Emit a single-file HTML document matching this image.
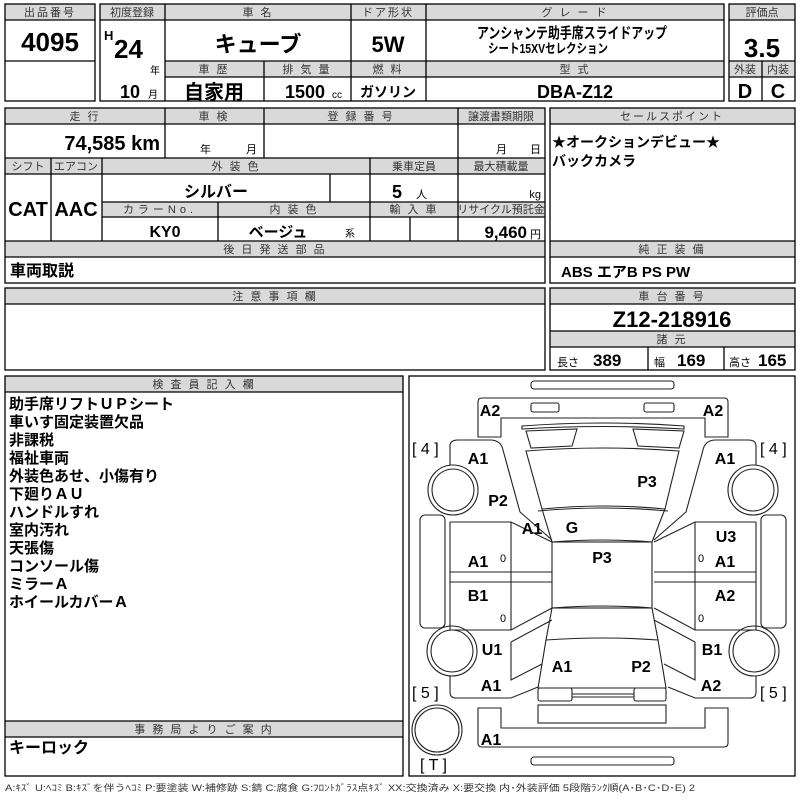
<!DOCTYPE html>
<html><head><meta charset="utf-8"><style>
html,body{margin:0;padding:0;background:#fff;width:800px;height:800px;overflow:hidden}
svg{display:block}
text{font-family:"Liberation Sans","Noto Sans CJK JP",sans-serif}
.h{font-size:11px;fill:#333;text-anchor:middle;letter-spacing:2px}
.b{font-weight:bold;fill:#000}
.c{text-anchor:middle}
.l{font-size:16px;font-weight:bold;text-anchor:middle}
</style></head><body>
<svg width="800" height="800" viewBox="0 0 800 800" xmlns="http://www.w3.org/2000/svg">
<g fill="#d9d9d9" stroke="none">
<rect x="5" y="4" width="90" height="16"/>
<rect x="100" y="4" width="624" height="16"/>
<rect x="165" y="61" width="559" height="16"/>
<rect x="729" y="4" width="66" height="16"/>
<rect x="729" y="61" width="66" height="16"/>
<rect x="5" y="108" width="540" height="16"/>
<rect x="5" y="158" width="540" height="16"/>
<rect x="102" y="202" width="443" height="15"/>
<rect x="5" y="241" width="540" height="16"/>
<rect x="550" y="108" width="245" height="16"/>
<rect x="550" y="241" width="245" height="16"/>
<rect x="5" y="288" width="540" height="16"/>
<rect x="550" y="288" width="245" height="16"/>
<rect x="550" y="331" width="245" height="16"/>
<rect x="5" y="376" width="398" height="16"/>
<rect x="5" y="721" width="398" height="16"/>
</g>
<g fill="none" stroke="#000" stroke-width="1.3">
<rect x="5" y="4" width="90" height="97"/>
<line x1="5" y1="20" x2="95" y2="20"/><line x1="5" y1="61" x2="95" y2="61"/>
<rect x="100" y="4" width="624" height="97"/>
<line x1="100" y1="20" x2="724" y2="20"/>
<line x1="165" y1="61" x2="724" y2="61"/><line x1="165" y1="77" x2="724" y2="77"/>
<line x1="165" y1="4" x2="165" y2="101"/><line x1="351" y1="4" x2="351" y2="101"/>
<line x1="426" y1="4" x2="426" y2="101"/><line x1="264" y1="61" x2="264" y2="101"/>
<rect x="729" y="4" width="66" height="97"/>
<line x1="729" y1="20" x2="795" y2="20"/><line x1="729" y1="61" x2="795" y2="61"/><line x1="729" y1="77" x2="795" y2="77"/>
<line x1="762" y1="61" x2="762" y2="101"/>

<rect x="5" y="108" width="540" height="175"/>
<line x1="5" y1="124" x2="545" y2="124"/><line x1="5" y1="158" x2="545" y2="158"/><line x1="5" y1="174" x2="545" y2="174"/>
<line x1="102" y1="202" x2="545" y2="202"/><line x1="102" y1="217" x2="545" y2="217"/>
<line x1="5" y1="241" x2="545" y2="241"/><line x1="5" y1="257" x2="545" y2="257"/>
<line x1="165" y1="108" x2="165" y2="158"/><line x1="264" y1="108" x2="264" y2="158"/><line x1="458" y1="108" x2="458" y2="241"/>
<line x1="51" y1="158" x2="51" y2="241"/><line x1="102" y1="158" x2="102" y2="241"/>
<line x1="370" y1="158" x2="370" y2="241"/><line x1="330" y1="174" x2="330" y2="202"/>
<line x1="218" y1="202" x2="218" y2="241"/><line x1="410" y1="217" x2="410" y2="241"/>

<rect x="550" y="108" width="245" height="175"/>
<line x1="550" y1="124" x2="795" y2="124"/><line x1="550" y1="241" x2="795" y2="241"/><line x1="550" y1="257" x2="795" y2="257"/>

<rect x="5" y="288" width="540" height="82"/><line x1="5" y1="304" x2="545" y2="304"/>
<rect x="550" y="288" width="245" height="82"/>
<line x1="550" y1="304" x2="795" y2="304"/><line x1="550" y1="331" x2="795" y2="331"/><line x1="550" y1="347" x2="795" y2="347"/>
<line x1="648" y1="347" x2="648" y2="370"/><line x1="724" y1="347" x2="724" y2="370"/>

<rect x="5" y="376" width="398" height="400"/>
<line x1="5" y1="392" x2="403" y2="392"/><line x1="5" y1="721" x2="403" y2="721"/><line x1="5" y1="737" x2="403" y2="737"/>
<rect x="409" y="376" width="386" height="400"/>
</g>

<text class="h" x="50" y="16">出品番号</text>
<text class="h" x="132" y="16" style="letter-spacing:0">初度登録</text>
<text class="h" x="258" y="16">車 名</text>
<text class="h" x="388" y="16">ドア形状</text>
<text class="h" x="575" y="16">グ レ ー ド</text>
<text class="h" x="762" y="16" style="letter-spacing:0">評価点</text>
<text class="h" x="214" y="73">車 歴</text>
<text class="h" x="307" y="73">排 気 量</text>
<text class="h" x="388" y="73">燃 料</text>
<text class="h" x="575" y="73">型 式</text>
<text class="h" x="745" y="73" style="letter-spacing:0">外装</text>
<text class="h" x="778" y="73" style="letter-spacing:0">内装</text>

<text class="h" x="85" y="120">走 行</text>
<text class="h" x="214" y="120">車 検</text>
<text class="h" x="361" y="120">登 録 番 号</text>
<text class="h" x="501" y="120" style="letter-spacing:0">譲渡書類期限</text>
<text class="h" x="28" y="170" style="letter-spacing:0">シフト</text>
<text class="h" x="76" y="170" style="letter-spacing:0">エアコン</text>
<text class="h" x="236" y="170">外 装 色</text>
<text class="h" x="414" y="170" style="letter-spacing:0">乗車定員</text>
<text class="h" x="501" y="170" style="letter-spacing:0">最大積載量</text>
<text class="h" x="160" y="213" style="letter-spacing:4px">カラーNo.</text>
<text class="h" x="294" y="213">内 装 色</text>
<text class="h" x="414" y="213">輸 入 車</text>
<text class="h" x="501" y="213" style="letter-spacing:0">リサイクル預託金</text>
<text class="h" x="275" y="253">後 日 発 送 部 品</text>
<text class="h" x="672" y="120">セールスポイント</text>
<text class="h" x="672" y="253">純 正 装 備</text>
<text class="h" x="275" y="300">注 意 事 項 欄</text>
<text class="h" x="672" y="300">車 台 番 号</text>
<text class="h" x="672" y="343">諸 元</text>
<text class="h" x="204" y="388">検 査 員 記 入 欄</text>
<text class="h" x="204" y="733">事 務 局 よ り ご 案 内</text>

<text class="b c" x="50" y="51" font-size="26">4095</text>
<text class="b" x="104" y="40" font-size="13">H</text>
<text class="b" x="114" y="58" font-size="26">24</text>
<text x="150" y="74" font-size="10">年</text>
<text class="b" x="120" y="98" font-size="18">10</text>
<text x="148" y="98" font-size="10">月</text>
<text class="b c" x="258" y="52" font-size="22">キューブ</text>
<text class="b c" x="388" y="52" font-size="22">5W</text>
<text class="b c" x="572" y="38" font-size="15" textLength="190" lengthAdjust="spacingAndGlyphs">アンシャンテ助手席スライドアップ</text>
<text class="b c" x="548" y="53" font-size="13" textLength="120" lengthAdjust="spacingAndGlyphs">シート15XVセレクション</text>
<text class="b c" x="762" y="57" font-size="26">3.5</text>
<text class="b c" x="214" y="99" font-size="20">自家用</text>
<text class="b" x="285" y="98" font-size="18">1500</text>
<text x="332" y="98" font-size="10">cc</text>
<text class="b c" x="388" y="97" font-size="14">ガソリン</text>
<text class="b c" x="575" y="98" font-size="18">DBA-Z12</text>
<text class="b c" x="745" y="98" font-size="20">D</text>
<text class="b c" x="778" y="98" font-size="20">C</text>

<text class="b" x="160" y="150" font-size="20" text-anchor="end">74,585 km</text>
<text x="200" y="153" font-size="11">年</text><text x="246" y="153" font-size="11">月</text>
<text x="496" y="153" font-size="11">月</text><text x="530" y="153" font-size="11">日</text>
<text class="b c" x="28" y="216" font-size="20">CAT</text>
<text class="b c" x="76" y="216" font-size="20">AAC</text>
<text class="b c" x="216" y="197" font-size="16">シルバー</text>
<text class="b" x="392" y="198" font-size="18">5</text>
<text x="416" y="198" font-size="11">人</text>
<text x="541" y="198" font-size="11" text-anchor="end">kg</text>
<text class="b c" x="165" y="237" font-size="16">KY0</text>
<text class="b c" x="278" y="237" font-size="15">ベージュ</text>
<text x="345" y="237" font-size="10">系</text>
<text class="b" x="527" y="238" font-size="17" text-anchor="end">9,460</text>
<text x="530" y="238" font-size="11">円</text>
<text class="b" x="10" y="276" font-size="16">車両取説</text>

<text class="b" x="552" y="147" font-size="14">★オークションデビュー★</text>
<text class="b" x="552" y="166" font-size="14">バックカメラ</text>
<text class="b" x="561" y="277" font-size="15">ABS エアB PS PW</text>
<text class="b c" x="672" y="327" font-size="22">Z12-218916</text>
<text x="557" y="366" font-size="11">長さ</text><text class="b" x="593" y="366" font-size="17">389</text>
<text x="654" y="366" font-size="11">幅</text><text class="b" x="677" y="366" font-size="17">169</text>
<text x="729" y="366" font-size="11">高さ</text><text class="b" x="758" y="366" font-size="17">165</text>

<g class="b" font-size="15">
<text x="9" y="409">助手席リフトＵＰシート</text>
<text x="9" y="427">車いす固定装置欠品</text>
<text x="9" y="445">非課税</text>
<text x="9" y="463">福祉車両</text>
<text x="9" y="481">外装色あせ、小傷有り</text>
<text x="9" y="499">下廻りＡＵ</text>
<text x="9" y="517">ハンドルすれ</text>
<text x="9" y="535">室内汚れ</text>
<text x="9" y="553">天張傷</text>
<text x="9" y="571">コンソール傷</text>
<text x="9" y="589">ミラーＡ</text>
<text x="9" y="607">ホイールカバーＡ</text>
</g>
<text class="b" x="9" y="753" font-size="16">キーロック</text>
<text x="5" y="791" font-size="9" fill="#333" textLength="690" lengthAdjust="spacingAndGlyphs">A:ｷｽﾞ U:ﾍｺﾐ B:ｷｽﾞを伴うﾍｺﾐ P:要塗装 W:補修跡 S:錆 C:腐食 G:ﾌﾛﾝﾄｶﾞﾗｽ点ｷｽﾞ XX:交換済み X:要交換 内･外装評価 5段階ﾗﾝｸ順(A･B･C･D･E) 2</text>

<g fill="none" stroke="#222" stroke-width="1.1">
<rect x="531" y="381" width="143" height="8" rx="3"/>
<rect x="531" y="757" width="143" height="8" rx="3"/>
<path d="M478,437 L478,402 Q478,398 482,398 L724,398 Q728,398 728,402 L728,437 L705,437 L705,418 L501,418 L501,437 Z"/>
<rect x="531" y="403" width="28" height="9" rx="2"/>
<rect x="644" y="403" width="30" height="9" rx="2"/>
<path d="M522,426 Q603,420 684,426 L684,429 Q603,424 522,429 Z"/>
<path d="M526,431 L577,429 L572,446 L531,448 Z"/>
<path d="M633,429 L684,431 L679,448 L638,446 Z"/>
<path d="M526,451 Q603,445 679,451 L665,509 Q603,503 542,509 Z"/>
<path d="M542,509 L552,542 Q603,538 652,542 L665,509"/>
<path d="M538,511 Q603,505 668,511"/>
<rect x="552" y="542" width="100" height="66"/>
<path d="M552,608 Q603,604 652,608 L658,640 Q603,636 546,640 Z"/>
<path d="M546,640 L538,688 L666,688 L658,640"/>
<rect x="538" y="688" width="34" height="13" rx="2"/>
<rect x="634" y="688" width="32" height="13" rx="2"/>
<line x1="572" y1="694" x2="634" y2="694"/><line x1="572" y1="697" x2="634" y2="697"/>
<rect x="538" y="705" width="128" height="18"/>
<path d="M478,708 L478,743 Q478,747 482,747 L724,747 Q728,747 728,743 L728,708 L705,708 L705,728 L501,728 L501,708 Z"/>
<circle cx="437" cy="730" r="25"/><circle cx="437" cy="730" r="22"/>
</g>
<g id="side" fill="none" stroke="#222" stroke-width="1.1">
<path d="M450,465 L450,446 Q450,440 458,440 L490,440 Q501,440 503,450 L520,512 L552,540"/>
<path d="M450,522 L511,522 L552,542"/>
<line x1="450" y1="522" x2="450" y2="630"/>
<line x1="511" y1="522" x2="511" y2="630"/>
<line x1="450" y1="572" x2="552" y2="572"/><line x1="450" y1="582" x2="552" y2="582"/>
<path d="M450,630 L511,630 L552,608"/>
<rect x="420" y="515" width="25" height="113" rx="5"/>
<circle cx="453" cy="490" r="25"/><circle cx="453" cy="490" r="21"/>
<circle cx="452" cy="651" r="25"/><circle cx="452" cy="651" r="21"/>
<path d="M511,642 L552,620 M511,642 L511,680 L542,664"/>
<path d="M450,676 L450,692 Q450,698 456,698 L511,698 L538,687"/>
</g>
<use href="#side" transform="translate(1206,0) scale(-1,1)"/>

<g font-size="16">
<text x="412" y="454">[ 4 ]</text>
<text x="760" y="454">[ 4 ]</text>
<text x="412" y="698">[ 5 ]</text>
<text x="760" y="698">[ 5 ]</text>
<text x="420" y="770">[ T ]</text>
</g>
<g class="l">
<text x="490" y="416">A2</text><text x="713" y="416">A2</text>
<text x="478" y="464">A1</text><text x="725" y="464">A1</text>
<text x="647" y="487">P3</text><text x="498" y="506">P2</text>
<text x="532" y="534">A1</text><text x="572" y="533">G</text>
<text x="726" y="542">U3</text><text x="602" y="563">P3</text>
<text x="478" y="567">A1</text><text x="725" y="567">A1</text>
<text x="478" y="601">B1</text><text x="725" y="601">A2</text>
<text x="492" y="655">U1</text><text x="712" y="655">B1</text>
<text x="562" y="672">A1</text><text x="641" y="672">P2</text>
<text x="491" y="691">A1</text><text x="711" y="691">A2</text>
<text x="491" y="745">A1</text>
</g>
<g font-size="11" text-anchor="middle">
<text x="503" y="562">0</text><text x="701" y="562">0</text>
<text x="503" y="622">0</text><text x="701" y="622">0</text>
</g>
</svg>
</body></html>
